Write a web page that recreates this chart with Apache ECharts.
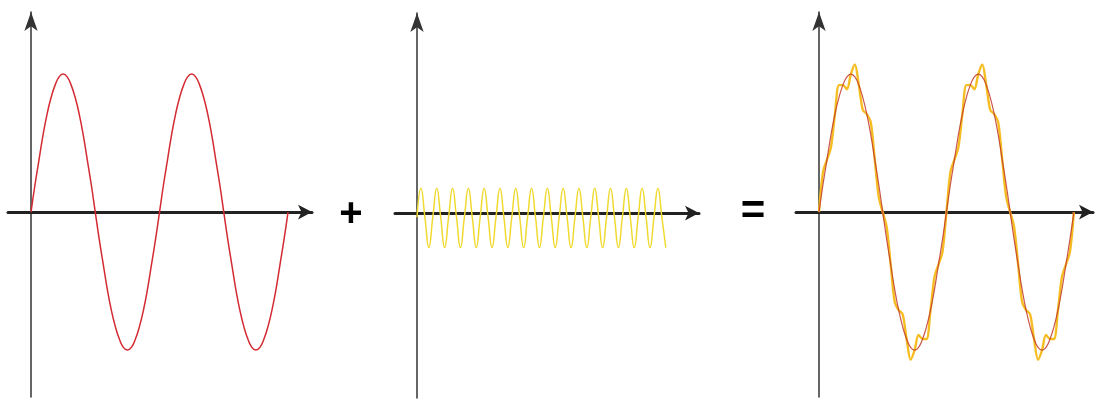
<!DOCTYPE html>
<html>
<head>
<meta charset="utf-8">
<script src="https://cdn.jsdelivr.net/npm/echarts@6/dist/echarts.min.js"></script>
<style>
  html, body { margin: 0; padding: 0; background: #fff; }
  #chart { width: 1099px; height: 403px; }
</style>
</head>
<body>
<div id="chart"></div>
<script>
// base wave, 2 periods, 32 samples per period
var baseWave = [0, 0.2, 0.38, 0.56, 0.71, 0.83, 0.92, 0.98, 1, 0.98, 0.92, 0.83, 0.71, 0.56, 0.38, 0.2,
  0, -0.2, -0.38, -0.56, -0.71, -0.83, -0.92, -0.98, -1, -0.98, -0.92, -0.83, -0.71, -0.56, -0.38, -0.2,
  0, 0.2, 0.38, 0.56, 0.71, 0.83, 0.92, 0.98, 1, 0.98, 0.92, 0.83, 0.71, 0.56, 0.38, 0.2,
  0, -0.2, -0.38, -0.56, -0.71, -0.83, -0.92, -0.98, -1, -0.98, -0.92, -0.83, -0.71, -0.56, -0.38, -0.2, 0];
// fast small wave, 16 cycles
var fastWave = [-0.03, 0.18, -0.03, -0.25, -0.03, 0.18, -0.03, -0.25, -0.03, 0.18, -0.03, -0.25, -0.03, 0.18, -0.03, -0.25,
  -0.03, 0.18, -0.03, -0.25, -0.03, 0.18, -0.03, -0.25, -0.03, 0.18, -0.03, -0.25, -0.03, 0.18, -0.03, -0.25,
  -0.03, 0.18, -0.03, -0.25, -0.03, 0.18, -0.03, -0.25, -0.03, 0.18, -0.03, -0.25, -0.03, 0.18, -0.03, -0.25,
  -0.03, 0.18, -0.03, -0.25, -0.03, 0.18, -0.03, -0.25, -0.03, 0.18, -0.03, -0.25, -0.03, 0.18, -0.03, -0.25];
// noisy sum as seen in the right panel
var sumWave = [0, 0.29, 0.38, 0.47, 0.71, 0.92, 0.92, 0.89, 1, 1.07, 0.92, 0.74, 0.71, 0.65, 0.38, 0.11,
  0, -0.11, -0.38, -0.65, -0.71, -0.74, -0.92, -1.07, -1, -0.89, -0.92, -0.92, -0.71, -0.47, -0.38, -0.29,
  0, 0.29, 0.38, 0.47, 0.71, 0.92, 0.92, 0.89, 1, 1.07, 0.92, 0.74, 0.71, 0.65, 0.38, 0.11,
  0, -0.11, -0.38, -0.65, -0.71, -0.74, -0.92, -1.07, -1, -0.89, -0.92, -0.92, -0.71, -0.47, -0.38, -0.29, 0];

function pairs(arr) {
  return arr.map(function (v, i) { return [i, v]; });
}

var xAxisBase = {
  type: 'value',
  axisLine: { onZero: true, symbol: ['none', 'arrow'], symbolSize: [11, 14], lineStyle: { color: '#222', width: 3 } },
  axisTick: { show: false },
  axisLabel: { show: false },
  splitLine: { show: false }
};
var yAxisBase = {
  type: 'value',
  min: -1.34,
  max: 1.45,
  axisLine: { onZero: true, symbol: ['none', 'arrow'], symbolSize: [10, 19], lineStyle: { color: '#333', width: 1.5 } },
  axisTick: { show: false },
  axisLabel: { show: false },
  splitLine: { show: false }
};

var chart = echarts.init(document.getElementById('chart'));
var option = {
  animation: false,
  backgroundColor: '#fff',
  grid: [
    { left: 8, top: 12, width: 304, height: 385 },
    { left: 395, top: 13, width: 304, height: 385 },
    { left: 796, top: 12, width: 297, height: 385 }
  ],
  xAxis: [
    Object.assign({}, xAxisBase, { gridIndex: 0, min: -5.73, max: 69.97 }),
    Object.assign({}, xAxisBase, { gridIndex: 1, min: -5.57, max: 71.4 }),
    Object.assign({}, xAxisBase, { gridIndex: 2, min: -5.78, max: 68.8 })
  ],
  yAxis: [
    Object.assign({}, yAxisBase, { gridIndex: 0 }),
    Object.assign({}, yAxisBase, { gridIndex: 1 }),
    Object.assign({}, yAxisBase, { gridIndex: 2 })
  ],
  graphic: [
    { type: 'text', x: 351, y: 215, style: { text: '+', font: 'bold 40px "Liberation Sans"', fill: '#000', align: 'center', verticalAlign: 'middle' } },
    { type: 'text', x: 753, y: 212, style: { text: '=', font: 'bold 42px "Liberation Sans"', fill: '#000', align: 'center', verticalAlign: 'middle' } }
  ],
  series: [
    {
      type: 'line', xAxisIndex: 0, yAxisIndex: 0, data: pairs(baseWave),
      smooth: true, showSymbol: false, lineStyle: { color: '#d42a32', width: 1.5 }, z: 3
    },
    {
      type: 'line', xAxisIndex: 1, yAxisIndex: 1, data: pairs(fastWave),
      smooth: true, showSymbol: false, lineStyle: { color: '#f0da30', width: 1.5 }, z: 1
    },
    {
      type: 'line', xAxisIndex: 2, yAxisIndex: 2, data: pairs(sumWave),
      smooth: 0.3, showSymbol: false, lineStyle: { color: '#f6bd22', width: 2.4 }, z: 1
    },
    {
      type: 'line', xAxisIndex: 2, yAxisIndex: 2, data: pairs(baseWave),
      smooth: true, showSymbol: false, lineStyle: { color: '#c0392b', width: 1.2, opacity: 0.85 }, z: 3
    }
  ]
};
chart.setOption(option);
</script>
</body>
</html>
